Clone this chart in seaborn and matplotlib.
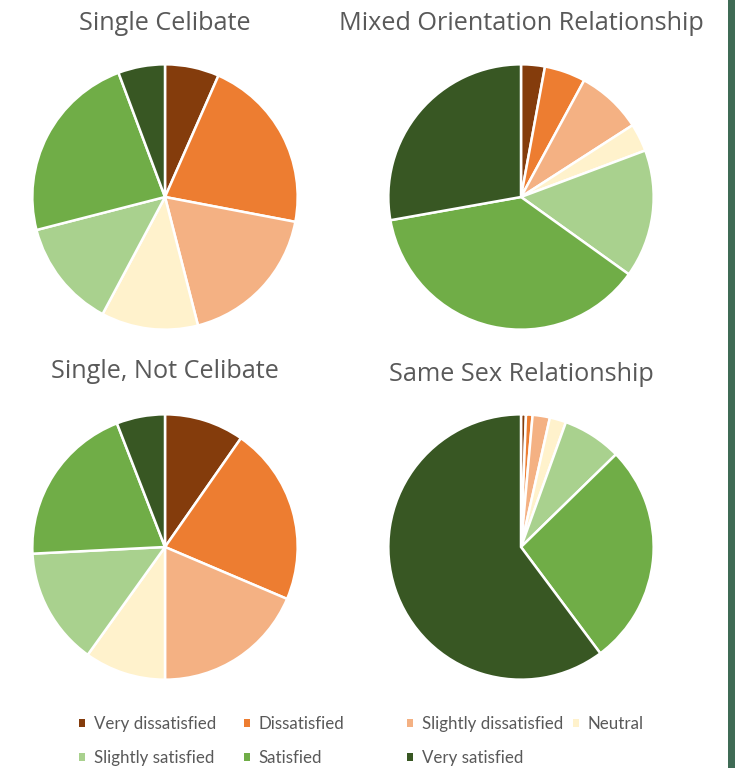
import matplotlib
matplotlib.use("Agg")
import matplotlib.pyplot as plt
from matplotlib.patches import Rectangle, Patch
import seaborn as sns

sns.set_theme(style="white")
plt.rcParams["font.family"] = ["Open Sans", "DejaVu Sans"]

# Satisfaction categories and their colours
categories = ["Very dissatisfied", "Dissatisfied", "Slightly dissatisfied", "Neutral",
              "Slightly satisfied", "Satisfied", "Very satisfied"]
colors = ["#843C0C", "#ED7D31", "#F4B183", "#FFF2CC", "#A9D18E", "#70AD47", "#385723"]

# Share of respondents (%) in each group
single_celibate = [6.6, 21.4, 18.0, 11.8, 13.2, 23.3, 5.7]
mixed_orientation = [2.9, 5.0, 8.0, 3.4, 15.6, 37.3, 27.8]
single_not_celibate = [9.7, 21.7, 18.6, 9.9, 14.3, 19.9, 5.9]
same_sex = [0.6, 0.8, 2.1, 2.0, 7.2, 27.1, 60.2]

titles = ["Single Celibate", "Mixed Orientation Relationship",
          "Single, Not Celibate", "Same Sex Relationship"]
groups = [single_celibate, mixed_orientation, single_not_celibate, same_sex]

W, H = 735, 768
fig = plt.figure(figsize=(W / 100, H / 100), dpi=100)
fig.patch.set_facecolor("white")

text_color = "#595959"
radius_px = 134
centers = [(165, 197), (521, 197), (165, 547), (521, 547)]
title_pos = [(165, 23), (521, 23), (165, 372), (521, 374)]

for vals, title, (cx, cy), (tx, ty) in zip(groups, titles, centers, title_pos):
    ax = fig.add_axes([(cx - radius_px) / W, 1 - (cy + radius_px) / H,
                       2 * radius_px / W, 2 * radius_px / H])
    ax.pie(vals, colors=colors, startangle=90, counterclock=False, radius=1,
           wedgeprops=dict(edgecolor="white", linewidth=1.8))
    ax.set_xlim(-1.01, 1.01)
    ax.set_ylim(-1.01, 1.01)
    ax.set_aspect("equal")
    ax.axis("off")
    fig.text(tx / W, 1 - ty / H, title, ha="center", va="center",
             fontsize=18.2, color=text_color)

# Legend entries laid out on a fixed grid
legend_slots = [(79, 724), (244, 724), (407, 724), (573, 724),
                (79, 758), (244, 758), (407, 758)]
for cat, col, (lx, ly) in zip(categories, colors, legend_slots):
    handle = Patch(facecolor=col, edgecolor="none")
    fig.legend([handle], [cat], loc="center left",
               bbox_to_anchor=(lx / W, 1 - ly / H), frameon=False,
               prop={"family": ["Lato", "DejaVu Sans"], "size": 12.2},
               labelcolor=text_color, handlelength=0.37,
               handleheight=0.37, handletextpad=0.5, borderpad=0,
               borderaxespad=0)

# Dark side border
fig.patches.append(Rectangle((728 / W, 0), 7 / W, 1, transform=fig.transFigure,
                             facecolor="#3F6B55", edgecolor="none"))

fig.savefig("out.png", dpi=100)
